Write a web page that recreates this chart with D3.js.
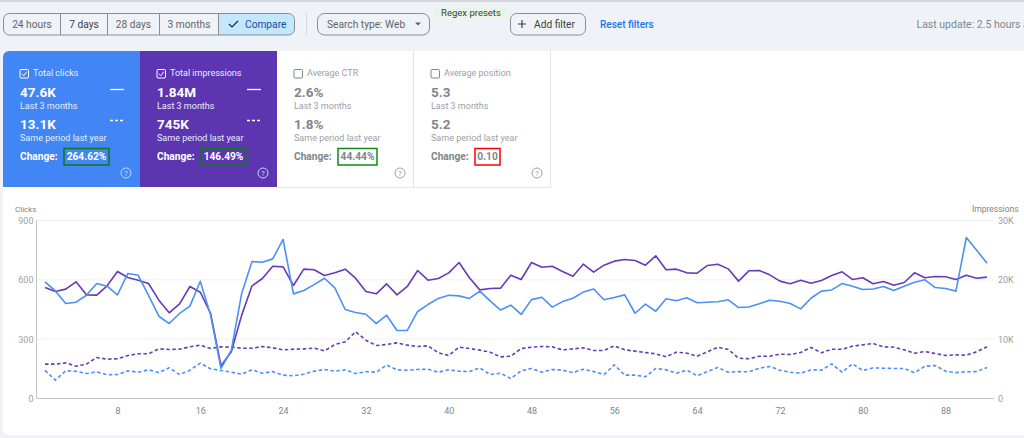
<!DOCTYPE html>
<html>
<head>
<meta charset="utf-8">
<script src="https://cdn.jsdelivr.net/npm/d3@7"></script>
<style>
  html, body { margin: 0; padding: 0; background: #eff3f8; overflow: hidden; }
  svg { display: block; font-family: Roboto, sans-serif; }
  .axis path, .axis line { fill: none; }
</style>
</head>
<body>
<div id="chart"></div>
<script>
// values, one entry per day (92 days)
const clicksNow = [590,544,480,487,522,581,568,524,632,623,522,416,379,430,467,593,421,152,244,531,693,689,706,804,529,546,576,608,559,450,435,426,379,421,344,344,440,475,506,522,519,506,543,494,447,472,425,500,512,462,490,507,538,554,499,511,524,431,477,441,504,494,509,484,487,489,499,460,463,479,497,492,480,453,507,543,549,581,568,551,554,566,546,568,588,600,561,556,543,814,750,684];
const clicksPrev = [142,93,140,138,126,135,120,121,140,133,145,131,155,121,143,179,150,142,133,123,145,128,136,118,115,123,138,147,138,145,126,136,133,169,145,143,147,148,133,145,138,136,155,121,128,101,140,152,133,147,143,131,148,136,121,170,118,118,110,152,145,128,143,115,136,157,133,136,135,153,162,143,133,128,145,143,175,133,175,142,155,153,152,152,130,163,167,138,131,135,136,157];
const imprNow = [18710,18030,18430,19660,17470,17420,18990,21400,20390,19940,19380,16570,14440,15960,18880,17920,14330,5510,7870,14050,18990,20220,22300,22190,19050,21800,21690,20730,21180,21800,20280,18030,17640,19330,17470,18880,21570,19940,20220,21180,22920,20340,18310,18540,18600,20790,20060,22920,22130,22300,21400,20620,22640,21290,22470,23150,23430,23260,22470,24050,21690,21800,21180,21120,22420,22640,21850,19780,21520,21570,20840,19780,19330,19940,19440,19890,20730,21350,20060,20340,19330,19720,19100,19550,21180,20340,20560,20510,20060,20790,20280,20450];
const imprPrev = [5790,5790,6010,5450,5790,6910,6630,6690,7250,7530,7530,8370,8260,8310,8710,8990,8430,8710,8650,8480,8480,8760,8540,8200,8310,8370,8480,8030,9100,9550,11240,9830,8930,9100,9380,8990,8760,8880,7700,7250,8650,8430,8150,7810,7020,7130,8430,8650,8760,8710,8200,8370,8540,8090,8090,8880,8200,7980,7750,7530,7020,7810,7640,7130,7870,8650,8260,6800,6690,7130,7130,7470,7420,7750,8600,7700,8310,8310,8820,9040,9270,8710,8650,8200,7640,7920,7580,7250,7360,7300,7870,8710];

const dayTicks = [8,16,24,32,40,48,56,64,72,80,88];
const clickTicks = [0,300,600,900];
const imprTicks = [0,10000,20000,30000];
const imprTickLabels = ["0","10K","20K","30K"];

const rangeButtons = ["24 hours","7 days","28 days","3 months"];

const cardTitles = ["Total clicks","Total impressions","Average CTR","Average position"];
const cardNow = ["47.6K","1.84M","2.6%","5.3"];
const cardPrev = ["13.1K","745K","1.8%","5.2"];
const cardChange = ["264.62%","146.49%","44.44%","0.10"];

const blue = "#4285f4", lineBlue = "#4a90f5", purple = "#673ab7", lineGrey = "#c4c7c5";

const svg = d3.select("#chart").append("svg")
    .attr("width", 1024)
    .attr("height", 438);

// top hairline
svg.append("rect").attr("x", 0).attr("y", 0).attr("width", 1024).attr("height", 2).attr("fill", "#d5d8dc");

//---- toolbar
const bar = svg.append("g");
const btnEdges = [3, 60, 107, 159, 218, 295];

function label(g, x, y, txt, size, color, weight, anchor) {
  return g.append("text").attr("x", x).attr("y", y)
    .attr("dy", "0.35em")
    .attr("font-size", size).attr("fill", color)
    .attr("font-weight", weight || 400)
    .attr("text-anchor", anchor || "start")
    .text(txt);
}

bar.append("path")
    .attr("d", "M218.5,13.5H288a6,6 0 0 1 6,6V29a6,6 0 0 1 -6,6H218.5Z")
    .attr("fill", "#c2e7ff");
bar.append("rect").attr("x", 3.5).attr("y", 13.5).attr("width", 291).attr("height", 21.5).attr("rx", 6)
    .attr("fill", "none").attr("stroke", "#8a8d91");
btnEdges.slice(1, 5).forEach(x => {
  bar.append("line").attr("x1", x + 0.5).attr("x2", x + 0.5).attr("y1", 14).attr("y2", 35).attr("stroke", "#8a8d91");
});
rangeButtons.forEach((b, i) => {
  label(bar, (btnEdges[i] + btnEdges[i + 1]) / 2 + 0.5, 24, b, 10.2, i == 1 ? "#3c4043" : "#5f6368", 400, "middle");
});
bar.append("path").attr("d", "M229,24l3,3l6,-6").attr("fill", "none").attr("stroke", "#1f2937").attr("stroke-width", 1.2);
label(bar, 245, 24, "Compare", 10.2, "#174ea6");

bar.append("line").attr("x1", 306.5).attr("x2", 306.5).attr("y1", 13).attr("y2", 35).attr("stroke", "#d5d8dc");

bar.append("rect").attr("x", 317.5).attr("y", 13.5).attr("width", 112).attr("height", 21.5).attr("rx", 7)
    .attr("fill", "none").attr("stroke", "#8a8d91");
label(bar, 327, 24, "Search type: Web", 10.2, "#5f6368");
bar.append("path").attr("d", "M415,22.5h6l-3,3Z").attr("fill", "#5f6368");

bar.append("rect").attr("x", 435).attr("y", 8).attr("width", 72).attr("height", 10).attr("fill", "#e8f6e4");
label(bar, 471, 13, "Regex presets", 9.5, "#3c4043", 400, "middle");

bar.append("rect").attr("x", 510.5).attr("y", 13.5).attr("width", 75).attr("height", 21.5).attr("rx", 6)
    .attr("fill", "none").attr("stroke", "#8a8d91");
bar.append("path").attr("d", "M518,24h8M522,20v8").attr("stroke", "#3c4043").attr("stroke-width", 1.2);
label(bar, 534, 24, "Add filter", 10.2, "#3c4043");
label(bar, 600, 24, "Reset filters", 10, "#1a73e8", 500);
label(bar, 916.5, 24, "Last update: 2.5 hours ago", 10.5, "#80868b");

//---- white panel behind cards and chart
svg.append("rect").attr("x", 3).attr("y", 51).attr("width", 1040).attr("height", 384).attr("rx", 6).attr("fill", "#fff");

//---- metric cards
const cardW = 137;
const cardFill = [blue, "#5e35b1", "#fff", "#fff"];
const boxW = [45, 45, 39, 25];
const boxColor = ["#0b7a1a", "#0b7a1a", "#0b8a1a", "#f00"];

cardTitles.forEach((t, i) => {
  const x0 = 3 + cardW * i, on = i < 2;
  const c = svg.append("g").attr("transform", `translate(${x0},51)`);
  if (i == 0) c.append("path").attr("d", "M0,136V6a6,6 0 0 1 6,-6H137V136Z").attr("fill", cardFill[i]);
  else if (on) c.append("rect").attr("width", cardW).attr("height", 136).attr("fill", cardFill[i]);
  else c.append("path").attr("d", "M136.5,0V136.5H0").attr("fill", "none").attr("stroke", "#e3e5e8");

  const fg = on ? "#fff" : "#80868b";
  const fgSoft = on ? "#e6eefc" : "#9aa0a6";
  const xt = 17;

  c.append("rect").attr("x", xt).attr("y", 18.5).attr("width", 8.5).attr("height", 8.5).attr("rx", 1)
      .attr("fill", "none").attr("stroke", on ? "#fff" : "#80868b");
  if (on) c.append("path").attr("d", `M${xt + 1.8},22.7l2,2l3,-4`).attr("fill", "none").attr("stroke", "#fff");
  label(c, 30, 22, t, 9, fgSoft);

  label(c, xt, 41.5, cardNow[i], 13.5, fg, 700);
  label(c, xt, 55, "Last 3 months", 9, fgSoft);
  label(c, xt, 73, cardPrev[i], 13.5, fg, 700);
  label(c, xt, 86.5, "Same period last year", 9, fgSoft);
  label(c, xt, 105, "Change:", 10.2, fg, 700);

  c.append("rect").attr("x", 61).attr("y", 97.5).attr("width", boxW[i]).attr("height", 16.5)
      .attr("fill", "none").attr("stroke", boxColor[i]).attr("stroke-width", 1.5);
  label(c, 61 + boxW[i] / 2, 105.5, cardChange[i], 10.2, fg, 700, "middle");

  if (on) {
    c.append("line").attr("x1", 107).attr("x2", 121).attr("y1", 38.5).attr("y2", 38.5).attr("stroke", "#fff").attr("stroke-width", 1.3);
    c.append("line").attr("x1", 107).attr("x2", 121).attr("y1", 69.5).attr("y2", 69.5).attr("stroke", "#fff")
        .attr("stroke-width", 1.3).attr("stroke-dasharray", "3,2");
  }
  c.append("circle").attr("cx", 123).attr("cy", 122).attr("r", 5).attr("fill", "none")
      .attr("stroke", on ? "#c9d6f5" : "#9aa0a6");
  label(c, 123, 122, "?", 8, on ? "#c9d6f5" : "#9aa0a6", 400, "middle");
});

//---- line chart
const xl = d3.scaleLinear().domain([1, 92]).range([45, 987]);
const yClicks = d3.scaleLinear().domain([0, 900]).range([398.5, 220.5]);
const yImpr = d3.scaleLinear().domain([0, 30000]).range([398.5, 220.5]);

const plotLeft = 36.5, plotRight = 994;

svg.selectAll(".grid").data(clickTicks.slice(1)).join("line")
    .attr("x1", plotLeft).attr("x2", plotRight)
    .attr("y1", d => yClicks(d)).attr("y2", d => yClicks(d))
    .attr("stroke", "#eef0f2");

svg.append("g").attr("class", "axis")
    .attr("transform", "translate(0,398.5)")
    .call(d3.axisBottom(xl).tickValues(dayTicks).tickSize(0).tickPadding(9).tickFormat(d3.format("d")))
    .call(g => g.select("path").remove())
    .call(g => g.selectAll("text").attr("font-size", 9).attr("font-family", "Roboto").attr("fill", "#80868b"));

svg.append("g").attr("class", "axis")
    .attr("transform", `translate(${plotLeft},0)`)
    .call(d3.axisLeft(yClicks).tickValues(clickTicks).tickSize(0).tickPadding(3))
    .call(g => g.select("path").remove())
    .call(g => g.selectAll("text").attr("font-size", 9).attr("font-family", "Roboto").attr("fill", "#9aa0a6"));

svg.append("g").attr("class", "axis")
    .attr("transform", `translate(${plotRight},0)`)
    .call(d3.axisRight(yImpr).tickValues(imprTicks).tickSize(0).tickPadding(4)
      .tickFormat((d, i) => imprTickLabels[i]))
    .call(g => g.select("path").remove())
    .call(g => g.selectAll("text").attr("font-size", 9).attr("font-family", "Roboto").attr("fill", "#9aa0a6"));

svg.append("line").attr("x1", plotLeft).attr("x2", plotRight).attr("y1", 398.5).attr("y2", 398.5).attr("stroke", lineGrey);
svg.append("line").attr("x1", plotLeft).attr("x2", plotLeft).attr("y1", 220.5).attr("y2", 398.5).attr("stroke", lineGrey);

label(svg, 15, 209, "Clicks", 8, "#80868b");
label(svg, 972, 209, "Impressions", 8.5, "#80868b");

const lineClicks = d3.line().x((d, i) => xl(i + 1)).y(d => yClicks(d));
const lineImpr = d3.line().x((d, i) => xl(i + 1)).y(d => yImpr(d));

const drawLine = (vals, gen, color, dash) => {
  const p = svg.append("path").datum(vals)
    .attr("d", gen)
    .attr("fill", "none")
    .attr("stroke", color)
    .attr("stroke-width", 1.6)
    .attr("stroke-linejoin", "round");
  if (dash) p.attr("stroke-dasharray", "3.5,2.5");
};

drawLine(imprPrev, lineImpr, purple, true);
drawLine(clicksPrev, lineClicks, lineBlue, true);
drawLine(imprNow, lineImpr, purple, false);
drawLine(clicksNow, lineClicks, lineBlue, false);
</script>
</body>
</html>
